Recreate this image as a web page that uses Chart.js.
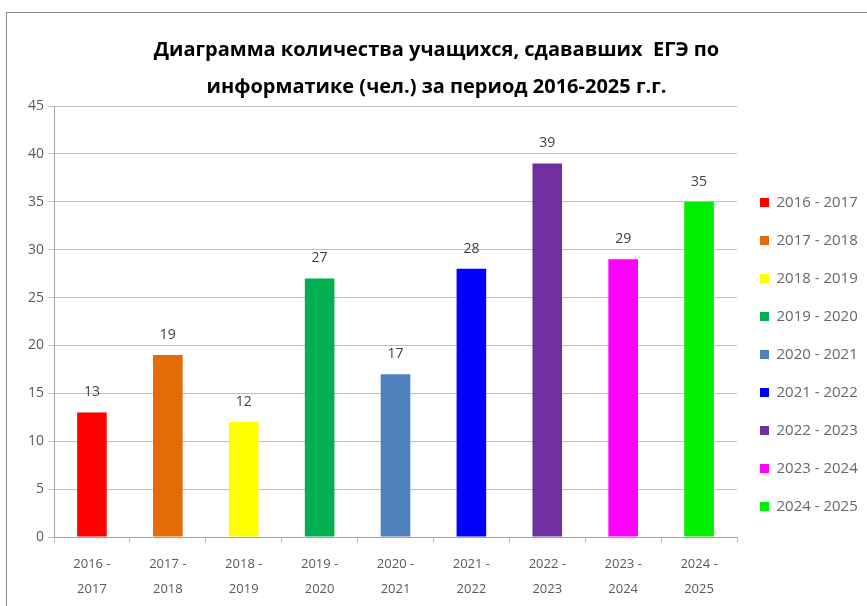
<!DOCTYPE html>
<html>
<head>
<meta charset="utf-8">
<script src="https://cdn.jsdelivr.net/npm/chart.js@4/dist/chart.umd.min.js"></script>
<style>
  html, body { margin: 0; padding: 0; background: #fff; overflow: hidden; }
  #wrap { position: relative; width: 867px; height: 606px; }
  #frame { position: absolute; left: 6px; top: 12px; width: 900px; height: 700px;
           border-left: 1px solid #8c8c8c; border-top: 1px solid #8c8c8c; }
  canvas { position: absolute; left: 0; top: 0; }
</style>
</head>
<body>
<div id="wrap">
  <div id="frame"></div>
  <canvas id="chart" width="867" height="606"></canvas>
</div>
<script>
const categories = ['2016 - 2017', '2017 - 2018', '2018 - 2019', '2019 - 2020', '2020 - 2021',
                    '2021 - 2022', '2022 - 2023', '2023 - 2024', '2024 - 2025'];
const tickLabels = [['2016 -', '2017'], ['2017 -', '2018'], ['2018 -', '2019'], ['2019 -', '2020'],
                    ['2020 -', '2021'], ['2021 -', '2022'], ['2022 -', '2023'], ['2023 -', '2024'],
                    ['2024 -', '2025']];
const students = [13, 19, 12, 27, 17, 28, 39, 29, 35];
const barColors = ['#ff0000', '#e36c09', '#ffff00', '#00b050', '#4f81bd',
                   '#0000ff', '#7030a0', '#ff00ff', '#00ee00'];
const titleLines = ['Диаграмма количества учащихся, сдававших  ЕГЭ по',
                    'информатике (чел.) за период 2016-2025 г.г.'];

const FONT = "'Open Sans', 'DejaVu Sans', sans-serif";

// values above bars
const valueLabels = {
  id: 'valueLabels',
  afterDatasetsDraw(chart) {
    const ctx = chart.ctx;
    const meta = chart.getDatasetMeta(0);
    ctx.save();
    ctx.font = '14px ' + FONT;
    ctx.fillStyle = '#404040';
    ctx.textAlign = 'center';
    ctx.textBaseline = 'middle';
    meta.data.forEach((bar, i) => {
      ctx.fillText(students[i], bar.x, bar.y - 20);
    });
    ctx.restore();
  }
};

new Chart(document.getElementById('chart').getContext('2d'), {
  type: 'bar',
  data: {
    labels: tickLabels,
    datasets: [{
      data: students,
      backgroundColor: barColors,
      barPercentage: 0.78,
      categoryPercentage: 0.5
    }]
  },
  options: {
    responsive: false,
    animation: false,
    layout: { padding: { left: 6, right: 0, top: 0, bottom: 3 } },
    scales: {
      y: {
        min: 0,
        max: 45,
        ticks: { stepSize: 5, color: '#595959', font: { family: FONT, size: 14 }, padding: 4 },
        grid: { color: '#bfbfbf', tickLength: 6 },
        border: { color: '#a6a6a6' },
        afterFit: s => { s.width = 48; }
      },
      x: {
        grid: { drawOnChartArea: false, offset: true, tickLength: 6, color: '#bfbfbf' },
        border: { color: '#a6a6a6' },
        ticks: { color: '#595959', font: { family: FONT, size: 13, lineHeight: 1.92 }, padding: 9, maxRotation: 0 },
        afterFit: s => { s.height = 66; }
      }
    },
    plugins: {
      title: {
        display: true,
        text: titleLines,
        color: '#000',
        font: { family: FONT, size: 20, weight: 'bold', lineHeight: 1.85 },
        padding: { top: 32, bottom: 0 }
      },
      legend: {
        position: 'right',
        align: 'start',
        maxWidth: 130,
        title: { display: true, text: ' ', font: { size: 10 }, padding: { top: 160, bottom: 0 } },
        labels: {
          boxWidth: 9,
          boxHeight: 9,
          padding: 23,
          color: '#404040',
          font: { family: FONT, size: 15 },
          generateLabels: () => categories.map((c, i) => ({
            text: c, fillStyle: barColors[i], strokeStyle: barColors[i],
            lineWidth: 0, hidden: false, index: i
          }))
        }
      },
      tooltip: { enabled: false }
    }
  },
  plugins: [valueLabels]
});
</script>
</body>
</html>
